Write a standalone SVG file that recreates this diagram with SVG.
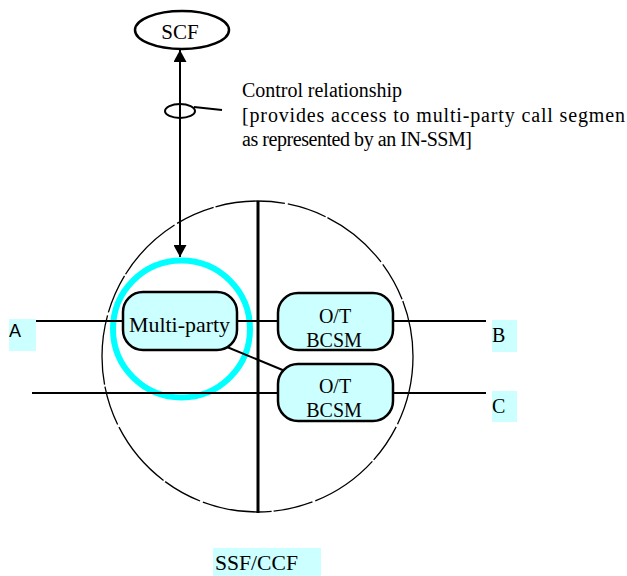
<svg xmlns="http://www.w3.org/2000/svg" width="627" height="576" viewBox="0 0 627 576">
  <style>
    .serif { font-family: "Liberation Serif", "Times New Roman", serif; fill: #000; }
    .sans { font-family: "Liberation Sans", Arial, sans-serif; fill: #000; }
    .box { fill: #ccffff; stroke: #000; stroke-width: 2.5; }
    .hl { fill: #ccffff; stroke: none; }
    .ln { stroke: #000; stroke-width: 2; fill: none; }
    .thin { stroke: #000; stroke-width: 1.3; fill: none; }
  </style>
  <defs>
    <marker id="arrow" viewBox="0 0 12 13" refX="12" refY="6.5" markerWidth="12" markerHeight="13" markerUnits="userSpaceOnUse" orient="auto">
      <path d="M0,0 L12,6.5 L0,13 Z" fill="#000"/>
    </marker>
  </defs>

  <rect width="627" height="576" fill="#fff"/>

  <!-- SSF/CCF domain: outer boundary and the split between call sides -->
  <g id="ssf-ccf">
    <circle cx="257.5" cy="356.5" r="155.5" class="thin" stroke-dasharray="70 3 40 2"/>
    <line x1="258" y1="201" x2="258" y2="513" stroke="#000" stroke-width="3"/>
    <rect class="hl" x="213" y="548" width="108" height="28"/>
    <text class="serif" x="215" y="570" font-size="21" textLength="83" lengthAdjust="spacingAndGlyphs">SSF/CCF</text>
  </g>

  <!-- IN-SSM scope ring around the multi-party segment -->
  <g id="in-ssm-ring">
    <circle cx="181.5" cy="329" r="68.5" fill="none" stroke="#00ffff" stroke-width="6"/>
  </g>

  <g id="connectors">
    <!-- control relationship SCF <-> multi-party -->
    <line x1="180" y1="63" x2="180" y2="244" class="ln"/>
    <line x1="180" y1="120" x2="180" y2="50" class="ln" marker-end="url(#arrow)"/>
    <line x1="180" y1="200" x2="180" y2="257" class="ln" marker-end="url(#arrow)"/>
    <ellipse cx="180" cy="111" rx="15" ry="7" class="ln" stroke-width="1.6"/>
    <line x1="194" y1="107" x2="222" y2="110" class="ln" stroke-width="1.6"/>
    <!-- call legs -->
    <line x1="36" y1="321" x2="123" y2="321" class="ln"/>
    <line x1="237" y1="321" x2="278" y2="321" class="ln"/>
    <line x1="393" y1="321" x2="486" y2="321" class="ln"/>
    <line x1="32" y1="393" x2="278" y2="393" class="ln"/>
    <line x1="393" y1="393" x2="486" y2="393" class="ln"/>
    <line x1="227" y1="347" x2="285" y2="371" class="ln" stroke-width="1.6"/>
  </g>

  <g id="scf">
    <ellipse cx="182" cy="30" rx="47" ry="19" fill="#fff" stroke="#000" stroke-width="2.5"/>
    <text class="serif" x="180" y="39" font-size="21" text-anchor="middle">SCF</text>
  </g>

  <g id="control-label">
    <text class="serif" x="242" y="97" font-size="20" textLength="160" lengthAdjust="spacing">Control relationship</text>
    <text class="serif" x="242" y="122" font-size="20" textLength="383" lengthAdjust="spacing">[provides access to multi-party call segmen</text>
    <text class="serif" x="242" y="146" font-size="20" textLength="230" lengthAdjust="spacing">as represented by an IN-SSM]</text>
  </g>

  <g id="multi-party">
    <rect class="box" x="123" y="292" width="114" height="58" rx="20"/>
    <text class="serif" x="129" y="332" font-size="21" textLength="101" lengthAdjust="spacingAndGlyphs">Multi-party</text>
  </g>

  <g id="bcsm-b">
    <rect class="box" x="278" y="293" width="115" height="57" rx="20"/>
    <text class="serif" x="335" y="323" font-size="20" text-anchor="middle">O/T</text>
    <text class="serif" x="334" y="347" font-size="20" text-anchor="middle">BCSM</text>
  </g>

  <g id="bcsm-c">
    <rect class="box" x="278" y="364" width="115" height="57" rx="20"/>
    <text class="serif" x="335" y="393" font-size="20" text-anchor="middle">O/T</text>
    <text class="serif" x="334" y="417" font-size="20" text-anchor="middle">BCSM</text>
  </g>

  <g id="party-a">
    <rect class="hl" x="9" y="319" width="27" height="32"/>
    <text class="sans" x="9" y="337" font-size="18">A</text>
  </g>
  <g id="party-b">
    <rect class="hl" x="492" y="320" width="25" height="32"/>
    <text class="serif" x="492" y="342" font-size="20">B</text>
  </g>
  <g id="party-c">
    <rect class="hl" x="492" y="391" width="25" height="31"/>
    <text class="serif" x="492" y="413" font-size="20">C</text>
  </g>
</svg>
